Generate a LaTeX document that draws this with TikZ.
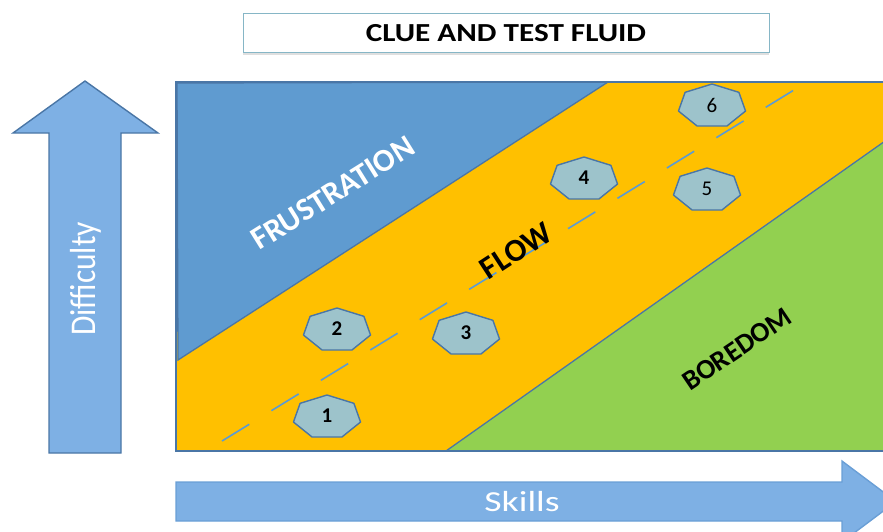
\documentclass[tikz,border=0pt]{standalone}
\usepackage{fontspec}
\setmainfont{Carlito}
\usetikzlibrary{shadows}
\definecolor{frus}{HTML}{5F9BD0}
\definecolor{flow}{HTML}{FFC000}
\definecolor{bore}{HTML}{92D050}
\definecolor{edge}{HTML}{4A76A6}
\definecolor{arrfill}{HTML}{7EB0E4}
\definecolor{arredge}{HTML}{6A9FD6}
\definecolor{heptfill}{HTML}{9DC3CB}
\definecolor{dashc}{HTML}{5B9BD5}
\definecolor{titleedge}{HTML}{86B6C6}
\begin{document}
\begin{tikzpicture}[x=1pt,y=-1pt,
  zone/.style={draw=edge,line width=1.3pt},
  heptst/.style={draw=edge,fill=heptfill,line width=1.4pt,line join=round},
  heptb/.style={inner sep=0pt,font=\fontsize{21}{24}\selectfont\bfseries},
  heptm/.style={inner sep=0pt,font=\fontsize{21}{24}\selectfont},
  diag/.style={inner sep=0pt,font=\fontsize{32}{36}\selectfont\bfseries},
  bigarrow/.style={fill=arrfill,line width=1.4pt,line join=miter},
  arrlabel/.style={text=white,inner sep=0pt,font=\fontsize{29}{32}\selectfont},
  titlebox/.style={draw=titleedge,fill=white,line width=1pt,minimum width=526pt,minimum height=39pt,
    drop shadow={opacity=0.25,shadow xshift=0pt,shadow yshift=-2pt},
    font=\fontsize{26}{29}\selectfont\bfseries}]
\useasboundingbox (0,0) rectangle (883,531);
\begin{scope}
\clip (0,0) rectangle (883,531);
% title
\node[titlebox] (title) at (506,33) {\scalebox{1.2}[1]{CLUE AND TEST FLUID}};
% main chart
\fill[flow] (176,82) rectangle (895,451);
\draw[zone,fill=frus] (177,83) -- (608,82) -- (178,360) -- cycle;
\draw[zone,fill=bore] (446,451) -- (895,134) -- (895,451) -- cycle;
\draw[edge,line width=1.8pt] (895,82) -- (176,82) -- (176,451) -- (895,451);
% dashed line
\coordinate (d0) at (222,441);
\coordinate (d1) at (807,82);
\draw[dashc,line width=1.6pt,dash pattern=on 32pt off 26pt] (d0) -- (d1);
% labels
\node[diag,text=white,rotate=32] (frustration) at (333,193) {FRUSTRATION};
\node[diag,rotate=33] (flowlabel) at (516,251) {FLOW};
\node[diag,rotate=34,font=\fontsize{28}{32}\selectfont\bfseries] (boredom) at (737,349) {BOREDOM};
% heptagons
\foreach \n/\X/\Y/\s in {1/327/416/heptb,2/337/329/heptb,3/466/333/heptb,4/584/178/heptb,5/707/189/heptm,6/712/105/heptm}{
  \draw[heptst] plot[samples at={0,1,2,3,4,5,6},variable=\k]
    ({\X+34.4*cos(90+\k*360/7)},{\Y+1.1-22.1*sin(90+\k*360/7)}) -- cycle;
  \node[\s] (h\n) at (\X,\Y) {\n};
}
% difficulty arrow
\draw[bigarrow,draw=edge] (85,81) -- (158,133) -- (121,133) -- (121,453) -- (49,453) -- (49,133) -- (13,133) -- cycle;
\node[arrlabel,rotate=90,font=\fontsize{31.5}{34}\selectfont] (difficulty) at (86,279) {\scalebox{1}[1.15]{Difficulty}};
% skills arrow
\draw[bigarrow,draw=arredge] (176,482) -- (842,482) -- (842,461) -- (896,501.5) -- (842,542) -- (842,521) -- (176,521) -- cycle;
\node[arrlabel] (skills) at (522,502) {\scalebox{1.3}[1]{Skills}};
\end{scope}
\end{tikzpicture}
\end{document}
